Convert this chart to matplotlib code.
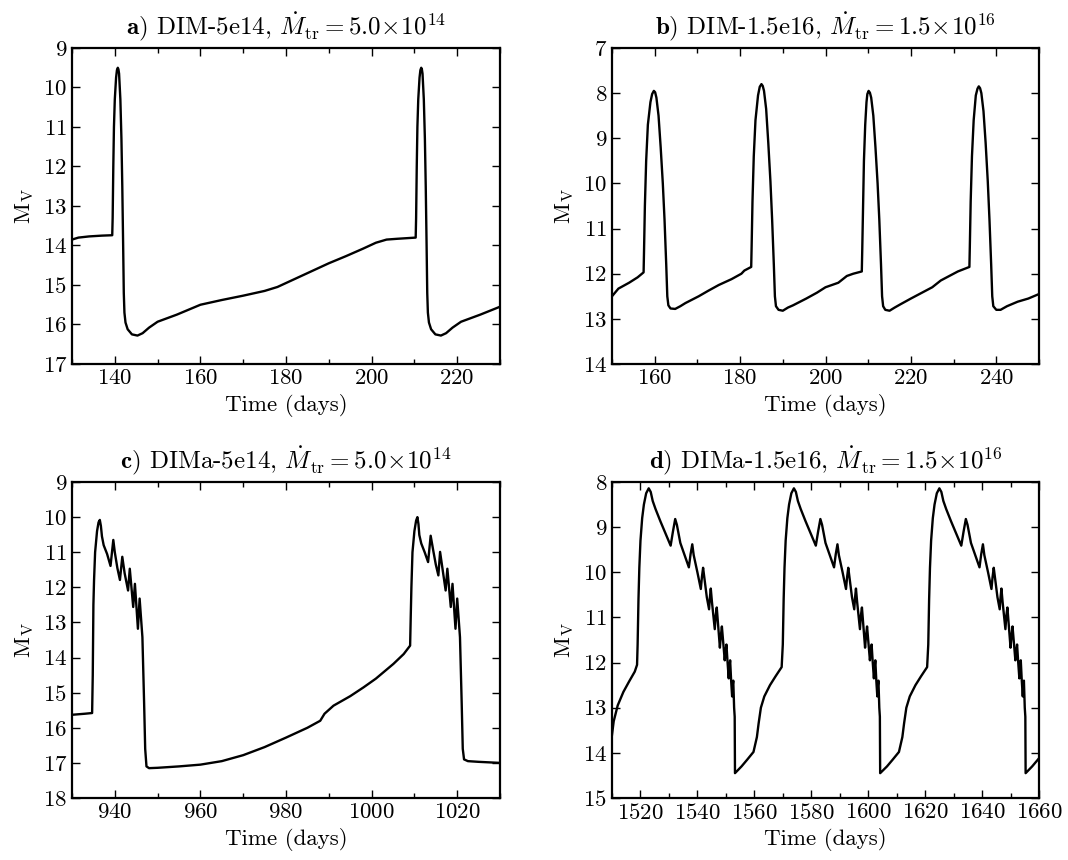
import matplotlib
matplotlib.use("Agg")
import matplotlib.pyplot as plt
from matplotlib.ticker import MultipleLocator

plt.rcParams['font.family'] = 'serif'
plt.rcParams['font.serif'] = ['cmr10', 'DejaVu Serif']
plt.rcParams['mathtext.fontset'] = 'cm'
plt.rcParams['axes.formatter.use_mathtext'] = True
plt.rcParams['axes.unicode_minus'] = False

# ---------------- Panel a: DIM-5e14 ----------------
t_a = [130, 131.5, 134, 137, 139.4, 139.5, 139.65, 139.8, 140.0, 140.3, 140.5, 140.7, 140.85, 141.0, 141.3,
       141.55, 141.75, 141.95, 142.1, 142.25, 142.5, 143.0, 144.0, 145.3, 146.5, 148.0, 150.0,
       154.5, 160, 165, 170, 175, 178, 182, 186, 190, 194, 198, 201, 203.5, 206, 210.3,
       210.4, 210.55, 210.7, 210.9, 211.2, 211.4, 211.6, 211.75, 211.9, 212.2, 212.45, 212.65, 212.85, 213.0,
       213.15, 213.4, 213.9, 214.9, 216.2, 217.4, 218.9, 220.9, 225.4, 230]
m_a = [13.85, 13.8, 13.77, 13.75, 13.74, 13.3, 12.0, 11.0, 10.3, 9.75, 9.56, 9.5, 9.54, 9.65, 10.3,
       11.3, 12.5, 14.0, 15.2, 15.7, 15.95, 16.12, 16.25, 16.28, 16.22, 16.08, 15.93,
       15.75, 15.5, 15.38, 15.27, 15.15, 15.05, 14.85, 14.65, 14.45, 14.27, 14.08, 13.93, 13.85, 13.83, 13.8,
       13.3, 12.0, 11.0, 10.3, 9.75, 9.56, 9.5, 9.54, 9.65, 10.3, 11.3, 12.5, 14.0, 15.2,
       15.7, 15.95, 16.12, 16.25, 16.28, 16.22, 16.08, 15.93, 15.75, 15.55]

# ---------------- Panel b: DIM-1.5e16 ----------------
t_b = [150, 151.5, 154, 156, 157.4, 157.5, 157.7, 158.0, 158.4, 159.0, 159.4, 159.8, 160.1, 160.4, 160.9,
       161.4, 161.9, 162.3, 162.7, 162.95, 163.2, 163.7, 164.8, 166, 167.2, 170.3, 172.5, 175,
       178, 180.3, 181, 182.6,
       182.7, 182.9, 183.2, 183.6, 184.2, 184.6, 185.0, 185.3, 185.6, 186.1, 186.6, 187.1, 187.5, 187.9,
       188.15, 188.4, 189.0, 190.0, 191.2, 192.4, 195.5, 198, 200, 203, 205, 206.5, 208.5,
       208.6, 208.8, 209.0, 209.3, 209.6, 209.8, 210.1, 210.4, 210.7, 211.2, 211.7, 212.2, 212.6, 213.0,
       213.25, 213.5, 214.0, 215.0, 216.2, 217.5, 220, 223, 225, 227, 229, 231, 233.7,
       233.8, 234.0, 234.3, 234.7, 235.2, 235.6, 235.9, 236.2, 236.5, 237.0, 237.5, 238.0, 238.4, 238.8,
       239.05, 239.3, 240.0, 241.0, 242.5, 245, 247.5, 250]
m_b = [12.5, 12.33, 12.2, 12.08, 11.97, 11.5, 10.5, 9.5, 8.7, 8.2, 8.02, 7.95, 7.98, 8.1, 8.5,
       9.2, 10.0, 10.8, 11.8, 12.5, 12.7, 12.77, 12.78, 12.72, 12.65, 12.5, 12.38, 12.25,
       12.12, 12.0, 11.93, 11.85,
       11.4, 10.4, 9.4, 8.6, 8.05, 7.86, 7.8, 7.84, 7.95, 8.35, 9.1, 9.95, 10.8, 11.8,
       12.5, 12.72, 12.8, 12.82, 12.75, 12.7, 12.55, 12.42, 12.3, 12.2, 12.05, 12.0, 11.95,
       11.5, 10.5, 9.5, 8.7, 8.2, 8.02, 7.95, 7.99, 8.1, 8.5, 9.2, 10.0, 10.8, 11.8,
       12.5, 12.72, 12.8, 12.82, 12.75, 12.68, 12.55, 12.4, 12.3, 12.15, 12.05, 11.95, 11.85,
       11.4, 10.4, 9.4, 8.6, 8.05, 7.9, 7.85, 7.89, 8.0, 8.4, 9.1, 9.95, 10.8, 11.8,
       12.5, 12.72, 12.8, 12.8, 12.72, 12.62, 12.55, 12.45]

# ---------------- Panel c: DIMa-5e14 ----------------
t_c = [930, 933, 934.7, 934.85, 935.0, 935.15, 935.4, 935.85, 936.2, 936.5, 936.75, 937.0, 937.4, 938.2,
       939.0, 939.65, 940.0, 940.6, 941.2, 941.75, 942.3, 943.1, 943.5, 944.3, 944.7, 945.4,
       945.8, 946.45, 946.85, 947.1, 947.4, 948, 950, 955, 960, 965, 970, 975, 980, 985,
       988, 989, 991.1, 995, 998.1, 1001, 1005.1, 1007.5, 1009.0,
       1009.15, 1009.3, 1009.55, 1010.0, 1010.4, 1010.7, 1010.95, 1011.15, 1011.6, 1012.4, 1013.2, 1013.8,
       1014.4, 1015.0, 1015.6, 1016.0, 1016.6, 1017.3, 1017.7, 1018.5, 1018.9, 1019.6,
       1020.0, 1020.65, 1021.05, 1021.3, 1021.6, 1022.5, 1025, 1030]
m_c = [15.63, 15.6, 15.58, 14.5, 12.5, 11.8, 11.0, 10.4, 10.15, 10.08, 10.25, 10.55, 10.8, 11.05,
       11.39, 10.65, 11.0, 11.45, 11.79, 11.13, 11.6, 12.09, 11.47, 12.56, 11.9, 13.18,
       12.32, 13.42, 15.3, 16.6, 17.1, 17.15, 17.14, 17.1, 17.05, 16.95, 16.78, 16.55, 16.28, 16.0,
       15.8, 15.6, 15.37, 15.1, 14.85, 14.6, 14.18, 13.9, 13.66,
       12.8, 12.0, 11.0, 10.4, 10.1, 10.0, 10.2, 10.51, 10.75, 11.0, 11.28, 10.53,
       10.95, 11.35, 11.66, 10.99, 11.5, 12.09, 11.47, 12.56, 11.9, 13.18,
       12.32, 13.42, 15.3, 16.6, 16.9, 16.95, 16.97, 17.0]

# ---------------- Panel d: DIMa-1.5e16 ----------------
t_d = [1510, 1510.6, 1512, 1514, 1516, 1518, 1518.8, 1519.0, 1519.3, 1519.6, 1520.0, 1520.6,
       1521.2, 1522.0, 1522.9, 1523.6, 1524.3, 1525.3, 1527, 1529, 1530.6, 1531.4, 1532.2,
       1532.8, 1534, 1535.5, 1537.0, 1537.6, 1538.2, 1538.7, 1540, 1541.2, 1541.6, 1542.0,
       1542.5, 1543.3, 1544.1, 1544.4, 1544.7, 1545.1, 1546.1, 1546.45, 1546.8, 1547.2,
       1547.9, 1548.25, 1548.6, 1549.0, 1549.6, 1549.9, 1550.2, 1550.6, 1551.0, 1551.25,
       1551.5, 1551.85, 1552.2, 1552.4, 1552.6, 1552.9, 1553.1,
       1553.2, 1555.5, 1557.5, 1559.7, 1560.9, 1561.5, 1562.3, 1563.5, 1565.5, 1567.5, 1569.6,
       1570.0, 1570.3, 1570.6, 1571.0, 1571.6, 1572.2, 1573.0, 1573.9, 1574.6, 1575.3,
       1576.3, 1578.0, 1580.0, 1581.6, 1582.4, 1583.2, 1583.8, 1585.0, 1586.5, 1588.0,
       1588.6, 1589.2, 1589.7, 1591.0, 1592.2, 1592.6, 1593.0, 1593.5, 1594.3, 1595.1,
       1595.4, 1595.7, 1596.1, 1597.1, 1597.45, 1597.8, 1598.2, 1598.9, 1599.25, 1599.6,
       1600.0, 1600.6, 1600.9, 1601.2, 1601.6, 1602.0, 1602.25, 1602.5, 1602.85, 1603.2,
       1603.4, 1603.6, 1603.9, 1604.1,
       1604.2, 1606.6, 1608.6, 1610.8, 1612.0, 1612.6, 1613.4, 1614.6, 1616.6, 1618.6, 1620.7,
       1621.1, 1621.4, 1621.7, 1622.1, 1622.7, 1623.3, 1624.1, 1625.0, 1625.7, 1626.4,
       1627.4, 1629.1, 1631.1, 1632.7, 1633.5, 1634.3, 1634.9, 1636.1, 1637.6, 1639.1,
       1639.7, 1640.3, 1640.8, 1642.1, 1643.3, 1643.7, 1644.1, 1644.6, 1645.4, 1646.2,
       1646.5, 1646.8, 1647.2, 1648.2, 1648.55, 1648.9, 1649.3, 1650.0, 1650.35, 1650.7,
       1651.1, 1651.7, 1652.0, 1652.3, 1652.7, 1653.1, 1653.35, 1653.6, 1653.95, 1654.3,
       1654.5, 1654.7, 1655.0, 1655.2,
       1655.3, 1657.6, 1659.6, 1660]
m_d = [13.6, 13.3, 12.95, 12.65, 12.42, 12.2, 12.05, 11.6, 10.6, 9.9, 9.3, 8.8,
       8.5, 8.25, 8.14, 8.22, 8.42, 8.6, 8.87, 9.17, 9.41, 9.1, 8.82,
       8.95, 9.35, 9.62, 9.89, 9.6, 9.38, 9.62, 10.0, 10.37, 10.1, 9.9,
       10.15, 10.55, 10.82, 10.55, 10.36, 10.65, 11.26, 10.95, 10.78, 11.1,
       11.67, 11.4, 11.2, 11.5, 11.95, 11.75, 11.6, 12.0, 12.35, 12.1,
       11.95, 12.4, 12.75, 12.5, 12.4, 13.0, 13.2,
       14.45, 14.3, 14.15, 13.98, 13.65, 13.35, 13.0, 12.75, 12.5, 12.3, 12.1,
       11.6, 10.6, 9.9, 9.3, 8.8, 8.5, 8.25, 8.14, 8.22, 8.42,
       8.6, 8.87, 9.17, 9.41, 9.1, 8.82, 8.95, 9.35, 9.62, 9.89,
       9.6, 9.38, 9.62, 10.0, 10.37, 10.1, 9.9, 10.15, 10.55, 10.82,
       10.55, 10.36, 10.65, 11.26, 10.95, 10.78, 11.1, 11.67, 11.4, 11.2,
       11.5, 11.95, 11.75, 11.6, 12.0, 12.35, 12.1, 11.95, 12.4, 12.75,
       12.5, 12.4, 13.0, 13.2,
       14.45, 14.3, 14.15, 13.98, 13.65, 13.35, 13.0, 12.75, 12.5, 12.3, 12.1,
       11.6, 10.6, 9.9, 9.3, 8.8, 8.5, 8.25, 8.14, 8.22, 8.42,
       8.6, 8.87, 9.17, 9.41, 9.1, 8.82, 8.95, 9.35, 9.62, 9.89,
       9.6, 9.38, 9.62, 10.0, 10.37, 10.1, 9.9, 10.15, 10.55, 10.82,
       10.55, 10.36, 10.65, 11.26, 10.95, 10.78, 11.1, 11.67, 11.4, 11.2,
       11.5, 11.95, 11.75, 11.6, 12.0, 12.35, 12.1, 11.95, 12.4, 12.75,
       12.5, 12.4, 13.0, 13.2,
       14.45, 14.3, 14.15, 14.12]

titles = [r"$\mathbf{a)}$ DIM-5e14, $\dot{M}_{\rm tr}=5.0\!\times\!10^{14}$",
          r"$\mathbf{b)}$ DIM-1.5e16, $\dot{M}_{\rm tr}=1.5\!\times\!10^{16}$",
          r"$\mathbf{c)}$ DIMa-5e14, $\dot{M}_{\rm tr}=5.0\!\times\!10^{14}$",
          r"$\mathbf{d)}$ DIMa-1.5e16, $\dot{M}_{\rm tr}=1.5\!\times\!10^{16}$"]
xlims = [(130, 230), (150, 250), (930, 1030), (1510, 1660)]
ylims = [(17, 9), (14, 7), (18, 9), (15, 8)]
xlabel = "Time (days)"
ylabel = r"$\mathrm{M_V}$"

W, H = 1068, 860
fig = plt.figure(figsize=(W / 100, H / 100), dpi=100)
rects = [(72, 48, 500, 364), (612, 48, 1039, 364), (72, 482, 500, 798), (612, 482, 1039, 798)]
data = [(t_a, m_a), (t_b, m_b), (t_c, m_c), (t_d, m_d)]

for i, (r, (t, m)) in enumerate(zip(rects, data)):
    x0, y0, x1, y1 = r
    ax = fig.add_axes([x0 / W, 1 - y1 / H, (x1 - x0) / W, (y1 - y0) / H])
    ax.plot(t, m, color='black', lw=1.7, solid_joinstyle='round')
    ax.set_xlim(*xlims[i])
    ax.set_ylim(*ylims[i])
    ax.xaxis.set_major_locator(MultipleLocator(20))
    ax.xaxis.set_minor_locator(MultipleLocator(10))
    ax.yaxis.set_major_locator(MultipleLocator(1))
    ax.tick_params(which='both', direction='in', top=True, right=True, labelsize=16.5)
    ax.tick_params(which='major', length=6, width=1)
    ax.tick_params(which='minor', length=3.5, width=1)
    for s in ax.spines.values():
        s.set_linewidth(1.6)
    ax.set_title(titles[i], fontsize=18, pad=9)
    ax.set_xlabel(xlabel, fontsize=16.5, labelpad=4)
    ax.set_ylabel(ylabel, fontsize=16.5, labelpad=5)

fig.savefig("out.png", dpi=100)
